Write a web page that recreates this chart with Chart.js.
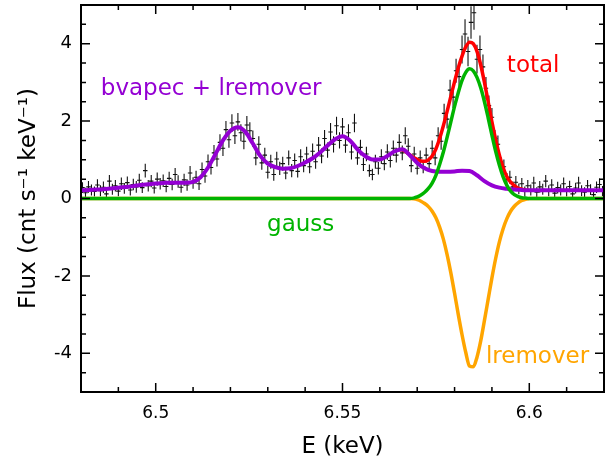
<!DOCTYPE html>
<html>
<head>
<meta charset="utf-8">
<script src="https://cdn.jsdelivr.net/npm/chart.js@4.4.1/dist/chart.umd.min.js"></script>
<style>
  html, body { margin: 0; padding: 0; background: #fff; }
  #wrap { width: 615px; height: 461px; }
</style>
</head>
<body>
<div id="wrap"><canvas id="spectrum" width="615" height="461"></canvas></div>
<script>
// binned spectrum, cnt/s/keV
const binStart = 6.4804;
const binWidth = 0.0008;
const flux = [
  0.28, 0.15, 0.30, 0.22, 0.18, 0.35, 0.20, 0.29, 0.12, 0.45,
  0.24, 0.33, 0.19, 0.38, 0.26, 0.41, 0.22, 0.36, 0.30, 0.47,
  0.28, 0.72, 0.33, 0.45, 0.27, 0.50, 0.38, 0.46, 0.31, 0.52,
  0.36, 0.62, 0.44, 0.29, 0.48, 0.35, 0.66, 0.40, 0.55, 0.38,
  0.75, 0.58, 0.95, 0.80, 1.18, 1.02, 1.45, 1.30, 1.78, 1.52,
  1.95, 1.62, 1.98, 1.70, 1.48, 1.90, 1.75, 1.55, 1.05, 1.40,
  0.92, 1.12, 0.68, 0.95, 0.62, 1.02, 0.78, 0.90, 0.66, 1.05,
  0.72, 0.98, 0.70, 1.08, 0.85, 1.15, 0.82, 1.22, 0.95, 1.38,
  1.10, 1.55, 1.25, 1.72, 1.40, 1.88, 1.50, 1.85, 1.38, 1.70,
  1.20, 1.95, 1.05, 1.32, 0.88, 1.15, 0.72, 0.62, 0.95, 0.78,
  1.08, 0.90, 1.20, 0.98, 1.30, 1.12, 1.45, 1.18, 1.62, 1.35,
  0.85, 1.15, 0.78, 1.05, 0.82, 1.12, 0.90, 1.30, 1.05, 1.62,
  1.48, 2.20, 2.05, 2.80, 2.62, 3.30, 3.15, 3.85, 4.25, 3.80,
  4.55, 4.80, 3.60, 3.85, 3.40, 2.85, 2.40, 2.10, 1.55, 1.40,
  0.88, 0.82, 0.50, 0.55, 0.30, 0.42, 0.25, 0.38, 0.18, 0.33,
  0.22, 0.40, 0.16, 0.30, 0.24, 0.45, 0.20, 0.35, 0.14, 0.28,
  0.22, 0.38, 0.18, 0.31, 0.12, 0.27, 0.40, 0.20, 0.16, 0.33,
  0.23, 0.10, 0.29, 0.36, 0.19
];
const fluxErr = [
  0.14, 0.13, 0.15, 0.14, 0.13, 0.15, 0.14, 0.15, 0.13, 0.16,
  0.14, 0.15, 0.13, 0.16, 0.14, 0.16, 0.14, 0.15, 0.15, 0.17,
  0.14, 0.18, 0.15, 0.16, 0.14, 0.17, 0.15, 0.16, 0.15, 0.17,
  0.15, 0.17, 0.16, 0.14, 0.16, 0.15, 0.18, 0.15, 0.17, 0.16,
  0.18, 0.17, 0.19, 0.18, 0.20, 0.19, 0.21, 0.20, 0.22, 0.21,
  0.23, 0.21, 0.23, 0.22, 0.21, 0.23, 0.22, 0.21, 0.19, 0.21,
  0.18, 0.19, 0.16, 0.18, 0.16, 0.19, 0.17, 0.18, 0.16, 0.19,
  0.17, 0.18, 0.16, 0.19, 0.17, 0.19, 0.17, 0.20, 0.18, 0.21,
  0.19, 0.22, 0.20, 0.23, 0.21, 0.23, 0.21, 0.23, 0.20, 0.22,
  0.19, 0.24, 0.18, 0.20, 0.17, 0.19, 0.16, 0.15, 0.18, 0.16,
  0.19, 0.17, 0.20, 0.18, 0.20, 0.19, 0.21, 0.19, 0.22, 0.21,
  0.17, 0.19, 0.16, 0.19, 0.17, 0.19, 0.18, 0.20, 0.19, 0.22,
  0.22, 0.25, 0.24, 0.27, 0.28, 0.31, 0.33, 0.36, 0.38, 0.38,
  0.42, 0.44, 0.37, 0.36, 0.32, 0.29, 0.26, 0.24, 0.22, 0.23,
  0.19, 0.19, 0.16, 0.17, 0.14, 0.16, 0.14, 0.15, 0.13, 0.15,
  0.14, 0.16, 0.13, 0.15, 0.14, 0.16, 0.14, 0.15, 0.13, 0.15,
  0.14, 0.16, 0.13, 0.15, 0.12, 0.14, 0.16, 0.14, 0.13, 0.15,
  0.14, 0.12, 0.15, 0.16, 0.13
];

// bvapec + lremover, 2 eV grid
const contStart = 6.480;
const contStep = 0.002;
const continuum = [
  0.21, 0.22, 0.23, 0.24, 0.26, 0.28, 0.30, 0.32, 0.35, 0.37,
  0.39, 0.40, 0.41, 0.41, 0.41, 0.43, 0.55, 0.80, 1.15, 1.50,
  1.75, 1.84, 1.72, 1.42, 1.10, 0.90, 0.81, 0.77, 0.78, 0.84,
  0.93, 1.04, 1.19, 1.37, 1.53, 1.61, 1.50, 1.27, 1.10, 1.01,
  1.01, 1.10, 1.22, 1.27, 1.12, 0.92, 0.78, 0.71, 0.69, 0.69,
  0.70, 0.72, 0.71, 0.60, 0.45, 0.34, 0.28, 0.25, 0.23, 0.22,
  0.21, 0.21, 0.21, 0.21, 0.21, 0.21, 0.21, 0.21, 0.21, 0.21,
  0.21
];

// Fe line region, 1 eV grid
const lineStart = 6.568;
const lineStep = 0.001;
const gauss = [
  0.00, 0.01, 0.04, 0.09, 0.16, 0.26, 0.40, 0.60, 0.88, 1.20,
  1.58, 1.98, 2.38, 2.74, 3.05, 3.26, 3.35, 3.30, 3.13, 2.86,
  2.50, 2.08, 1.64, 1.22, 0.86, 0.56, 0.34, 0.19, 0.10, 0.05,
  0.02, 0.01, 0.00
];
const lremover = [
  0.00, -0.01, -0.03, -0.07, -0.13, -0.21, -0.33, -0.50, -0.74, -1.05,
  -1.45, -1.92, -2.45, -3.00, -3.52, -3.98, -4.33, -4.35, -4.10, -3.68,
  -3.15, -2.60, -2.05, -1.55, -1.12, -0.78, -0.52, -0.33, -0.20, -0.11,
  -0.05, -0.02, 0.00
];

const totalStart = 6.565;
const total = [
  1.26, 1.26, 1.20, 1.13, 1.06, 1.01, 0.97, 0.96, 1.00, 1.10,
  1.28, 1.55, 1.88, 2.25, 2.64, 3.02, 3.38, 3.68, 3.92, 4.04,
  4.00, 3.80, 3.45, 3.00, 2.50, 1.98, 1.52, 1.12, 0.80, 0.56,
  0.42, 0.33, 0.27, 0.24, 0.22, 0.21
];

const xRange = [6.48, 6.62];
const yRange = [-5, 5];
const xMajor = [6.5, 6.55, 6.6];
const yMajor = [-4, -2, 0, 2, 4];

const FONT = 'DejaVu Sans';
const PURPLE = '#9400d3';
const GREEN = '#00b400';
const RED = '#ff0000';
const ORANGE = '#ffa500';

function onGrid(start, step, values) {
  return values.map((v, i) => ({ x: +(start + i * step).toFixed(4), y: v }));
}

// flat zero outside the line window
function padded(points) {
  return [{ x: xRange[0], y: 0 }, ...points, { x: xRange[1], y: 0 }];
}

const errorBars = {
  id: 'errorBars',
  beforeDatasetsDraw(chart) {
    const { ctx, chartArea: a, scales: { x, y } } = chart;
    ctx.save();
    ctx.beginPath();
    ctx.rect(a.left, a.top, a.right - a.left, a.bottom - a.top);
    ctx.clip();
    ctx.strokeStyle = '#111';
    ctx.lineWidth = 1.1;
    chart.data.datasets.forEach((ds) => {
      if (!ds.yErr) return;
      ctx.beginPath();
      ds.data.forEach((p, i) => {
        const px = x.getPixelForValue(p.x);
        const x0 = x.getPixelForValue(p.x - ds.xHalf);
        const x1 = x.getPixelForValue(p.x + ds.xHalf);
        const py = y.getPixelForValue(p.y);
        ctx.moveTo(px, y.getPixelForValue(p.y - ds.yErr[i]));
        ctx.lineTo(px, y.getPixelForValue(p.y + ds.yErr[i]));
        ctx.moveTo(x0, py);
        ctx.lineTo(x1, py);
      });
      ctx.stroke();
    });
    ctx.restore();
  }
};

const labels = [
  { text: 'bvapec + lremover', x: 6.4853, y: 2.84, color: PURPLE },
  { text: 'total', x: 6.5940, y: 3.43, color: RED },
  { text: 'gauss', x: 6.5298, y: -0.68, color: GREEN },
  { text: 'lremover', x: 6.5884, y: -4.09, color: ORANGE }
];

const frame = {
  id: 'frame',
  afterDatasetsDraw(chart) {
    const { ctx, chartArea: a, scales: { x, y } } = chart;
    ctx.save();

    ctx.font = '23px "' + FONT + '"';
    ctx.textAlign = 'left';
    ctx.textBaseline = 'middle';
    labels.forEach((l) => {
      ctx.fillStyle = l.color;
      ctx.fillText(l.text, x.getPixelForValue(l.x), y.getPixelForValue(l.y));
    });

    ctx.strokeStyle = '#000';
    ctx.lineWidth = 1.5;
    ctx.beginPath();
    for (let k = 1; k < 14; k++) {
      const v = xRange[0] + k * 0.01;
      const len = xMajor.some((m) => Math.abs(m - v) < 1e-6) ? 9 : 5;
      const px = x.getPixelForValue(v);
      ctx.moveTo(px, a.bottom);
      ctx.lineTo(px, a.bottom - len);
      ctx.moveTo(px, a.top);
      ctx.lineTo(px, a.top + len);
    }
    for (let k = 1; k < 20; k++) {
      const v = yRange[0] + k * 0.5;
      const len = yMajor.includes(v) ? 9 : 5;
      const py = y.getPixelForValue(v);
      ctx.moveTo(a.left, py);
      ctx.lineTo(a.left + len, py);
      ctx.moveTo(a.right, py);
      ctx.lineTo(a.right - len, py);
    }
    ctx.stroke();

    ctx.lineWidth = 2;
    ctx.strokeRect(a.left, a.top, a.right - a.left, a.bottom - a.top);
    ctx.restore();
  }
};

const curve = (label, data, color, width) => ({
  label,
  data,
  showLine: true,
  borderColor: color,
  borderWidth: width,
  pointRadius: 0,
  cubicInterpolationMode: 'monotone',
  fill: false
});

// keep the plot box fixed: no extra room for edge tick labels
function fixBox(s, size) {
  if (s.isHorizontal()) s.height = size; else s.width = size;
  s.paddingTop = 0;
  s.paddingBottom = 0;
  s.paddingLeft = 0;
  s.paddingRight = 0;
}

const spectrum = onGrid(binStart, binWidth, flux);

new Chart(document.getElementById('spectrum'), {
  type: 'scatter',
  data: {
    datasets: [
      curve('gauss', padded(onGrid(lineStart, lineStep, gauss)), GREEN, 3.5),
      curve('bvapec + lremover', onGrid(contStart, contStep, continuum), PURPLE, 4),
      curve('total', onGrid(totalStart, lineStep, total), RED, 3.5),
      curve('lremover', padded(onGrid(lineStart, lineStep, lremover)), ORANGE, 3.5),
      {
        label: 'data',
        data: spectrum,
        yErr: fluxErr,
        xHalf: 0.0006,
        pointRadius: 0,
        showLine: false
      }
    ]
  },
  options: {
    responsive: false,
    animation: false,
    devicePixelRatio: 1,
    layout: { padding: { top: 5, right: 11, left: 0, bottom: 0 } },
    plugins: {
      legend: { display: false },
      tooltip: { enabled: false }
    },
    scales: {
      x: {
        type: 'linear',
        min: xRange[0],
        max: xRange[1],
        grid: { display: false, drawTicks: false },
        border: { display: false },
        afterBuildTicks: (s) => { s.ticks = xMajor.map((v) => ({ value: v })); },
        afterFit: (s) => fixBox(s, 69),
        ticks: {
          color: '#000',
          padding: 11,
          maxRotation: 0,
          font: { family: FONT, size: 17 },
          callback: (v) => String(v)
        },
        title: {
          display: true,
          text: 'E (keV)',
          color: '#000',
          font: { family: FONT, size: 23 },
          padding: { top: 0, bottom: 0 }
        }
      },
      y: {
        min: yRange[0],
        max: yRange[1],
        grid: { display: false, drawTicks: false },
        border: { display: false },
        afterBuildTicks: (s) => { s.ticks = yMajor.map((v) => ({ value: v })); },
        afterFit: (s) => fixBox(s, 81),
        ticks: {
          color: '#000',
          padding: 9,
          font: { family: FONT, size: 18 },
          callback: (v) => String(v)
        },
        title: {
          display: true,
          text: 'Flux (cnt s\u207B\u00B9 keV\u207B\u00B9)',
          color: '#000',
          font: { family: FONT, size: 23 },
          padding: { top: 15, bottom: 0 }
        }
      }
    }
  },
  plugins: [errorBars, frame]
});
</script>
</body>
</html>
